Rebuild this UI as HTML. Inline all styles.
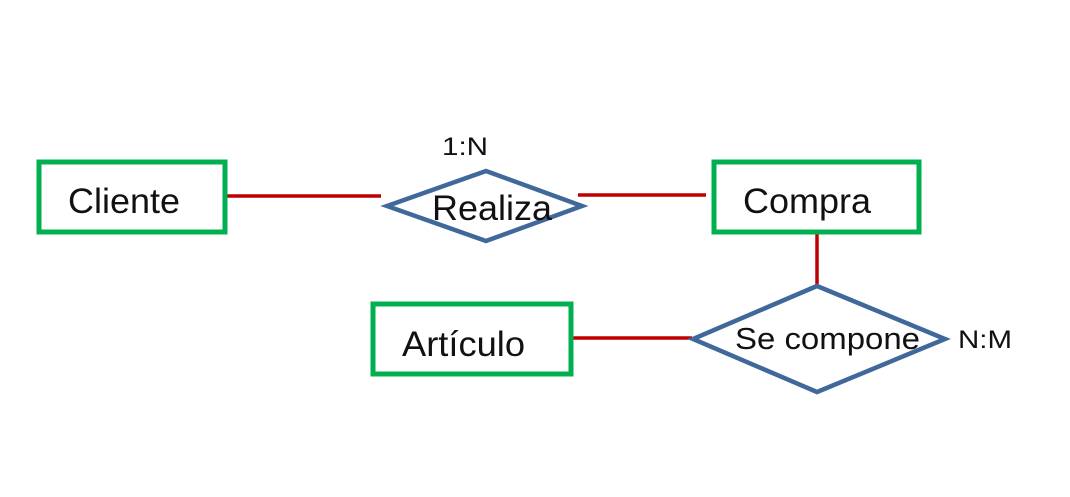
<!DOCTYPE html>
<html><head><meta charset="utf-8"><style>
html,body{margin:0;padding:0;background:#fff;}
svg{display:block;}
text{font-family:"Liberation Sans",Arial,sans-serif;fill:#111;}
</style></head><body>
<svg width="1070" height="497" viewBox="0 0 1070 497" xmlns="http://www.w3.org/2000/svg">
<rect width="1070" height="497" fill="#fff"/>
<g stroke="#c00000" stroke-width="3.5" fill="none">
<line x1="226" y1="196" x2="381" y2="196"/>
<line x1="578" y1="195" x2="706" y2="195"/>
<line x1="817" y1="233" x2="817" y2="287"/>
<line x1="572" y1="338" x2="692" y2="338"/>
</g>
<g stroke="#00b050" stroke-width="5" fill="none">
<rect x="39" y="162" width="186" height="70"/>
<rect x="714" y="162" width="205" height="70"/>
<rect x="373" y="304" width="198" height="70"/>
</g>
<g stroke="#41689a" stroke-width="4.5" fill="none" stroke-linejoin="miter">
<polygon points="486,171 582,206 486,241 387,206"/>
<polygon points="817,286 945,339 817,392 693,339"/>
</g>
<text x="68" y="213" font-size="35" textLength="112" lengthAdjust="spacingAndGlyphs">Cliente</text>
<text x="432" y="220" font-size="35" textLength="120" lengthAdjust="spacingAndGlyphs">Realiza</text>
<text x="743" y="213" font-size="35" textLength="128" lengthAdjust="spacingAndGlyphs">Compra</text>
<text x="402" y="356" font-size="35" textLength="123" lengthAdjust="spacingAndGlyphs">Artículo</text>
<text x="735" y="349" font-size="31" textLength="185" lengthAdjust="spacingAndGlyphs">Se compone</text>
<text x="442" y="155" font-size="25" textLength="46" lengthAdjust="spacingAndGlyphs">1:N</text>
<text x="958" y="348" font-size="25" textLength="54" lengthAdjust="spacingAndGlyphs">N:M</text>
</svg>
</body></html>
